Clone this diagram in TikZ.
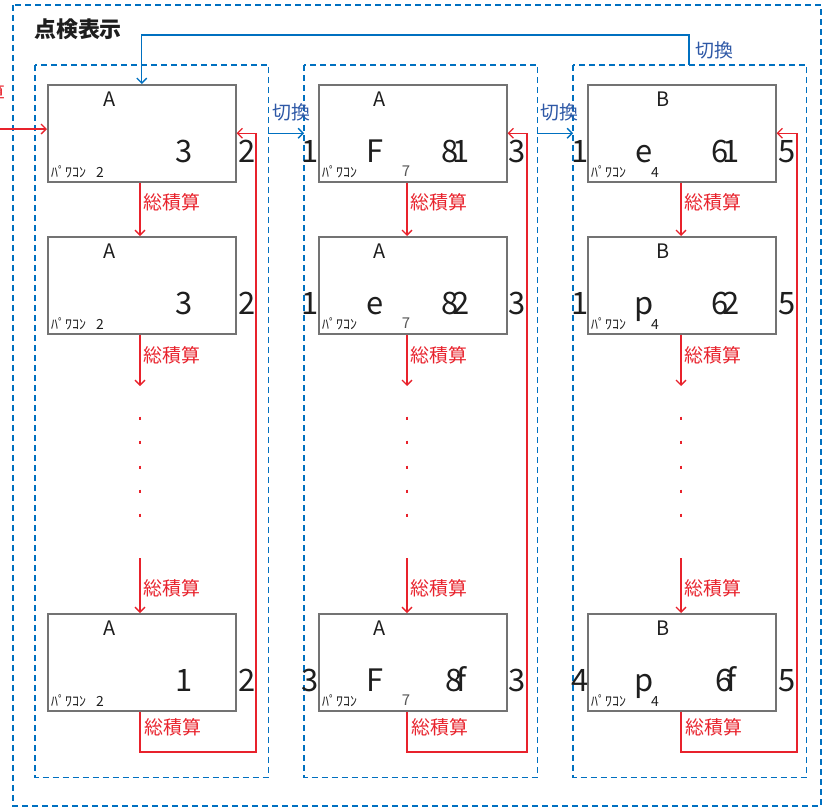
\documentclass[tikz,border=0pt]{standalone}
\usepackage{fontspec}
\setmainfont{Noto Sans CJK JP}
\usetikzlibrary{arrows.meta}
\definecolor{swblue}{RGB}{0,112,192}
\definecolor{swtext}{RGB}{46,88,166}
\definecolor{sumred}{RGB}{232,34,44}
\definecolor{boxgray}{RGB}{115,115,115}
\definecolor{ink}{RGB}{30,30,30}

\begin{document}
\begin{tikzpicture}[x=1bp,y=1bp,
	dashframe/.style={draw=swblue,line width=1.8bp,dash pattern=on 6bp off 4bp},
	colframe/.style={minimum width=233bp,minimum height=712bp,anchor=north west,inner sep=0pt},
	pcbox/.style={draw=boxgray,line width=1.5bp,minimum width=188bp,minimum height=97bp,anchor=north west,inner sep=0pt},
	sumline/.style={draw=sumred,line width=1.3bp},
	sumarrow/.style={sumline,-{Straight Barb[length=5bp,width=10bp]}},
	sumlabel/.style={text=sumred,font=\fontsize{19}{19}\selectfont,anchor=west,inner sep=0pt},
	swarrow/.style={draw=swblue,line width=1.3bp,-{Straight Barb[length=5bp,width=10bp]}},
	swlabel/.style={text=swtext,font=\fontsize{19}{19}\selectfont,anchor=west,inner sep=0pt},
	bignum/.style={text=ink,font=\fontsize{31}{31}\selectfont,anchor=base,inner sep=0pt},
	headtxt/.style={text=ink,font=\fontsize{20}{20}\selectfont,anchor=base,inner sep=0pt},
	pcstag/.style={text=ink,font=\fontsize{14}{14}\selectfont,anchor=base,inner sep=0pt},
	]
	\useasboundingbox (0,0) rectangle (825,-810);

	% outer frame and title
	\draw[dashframe] (13,-5) rectangle (821,-806);
	\node[anchor=west,text=ink,font=\bfseries\fontsize{22}{22}\selectfont,inner sep=0pt] (title) at (34,-29) {点検表示};

	% column frames
	\node[colframe] (c1) at (35,-65) {};
	\node[colframe] (c2) at (304,-65) {};
	\node[colframe] (c3) at (573,-65) {};
	\foreach \c in {1,2,3}
		\draw[dashframe] (c\c.north west) rectangle (c\c.south east);

	% display boxes
	\foreach \c/\x in {1/47,2/318,3/587}
		\foreach \r/\y in {1/84,2/236,3/613}
			\node[pcbox] (b\c\r) at (\x,-\y) {};

	% column 1
	\foreach \r/\y/\nm in {1/84/3,2/236/3,3/613/1}{
		\begin{scope}[shift={(47,-\y)}]
			\node[headtxt] (h1\r) at (63,-22) {A};
			\node[bignum] (n1\r) at (137,-78) {\nm};
			\node[pcstag,anchor=base west] (p1\r) at (4,-93) {ﾊﾟﾜｺﾝ};
			\node[pcstag] (t1\r) at (53,-93) {2};
			\node[bignum] (o1\r) at (200,-78) {2};
		\end{scope}
	}

	% column 2
	\foreach \r/\y/\lf/\md/\nm in {1/84/1/F/8\kern-.2em1,2/236/1/e/8\kern-.2em2,3/613/3/F/8\kern-.22em f}{
		\begin{scope}[shift={(318,-\y)}]
			\node[headtxt] (h2\r) at (62,-22) {A};
			\node[bignum] (i2\r) at (-8,-78) {\lf};
			\node[bignum] (m2\r) at (57,-78) {\md};
			\node[bignum] (n2\r) at (138,-78) {\nm};
			\node[pcstag,anchor=base west] (p2\r) at (4,-93) {ﾊﾟﾜｺﾝ};
			\node[pcstag,text=ink!75,font=\fontsize{15}{15}\selectfont] (t2\r) at (88,-92) {7};
			\node[bignum] (o2\r) at (199,-78) {3};
		\end{scope}
	}

	% column 3
	\foreach \r/\y/\lf/\md/\nm in {1/84/1/e/6\kern-.2em1,2/236/1/p/6\kern-.2em2,3/613/4/p/6\kern-.22em f}{
		\begin{scope}[shift={(587,-\y)}]
			\node[headtxt] (h3\r) at (76,-22) {B};
			\node[bignum] (i3\r) at (-7,-78) {\lf};
			\node[bignum] (m3\r) at (57,-78) {\md};
			\node[bignum] (n3\r) at (139,-78) {\nm};
			\node[pcstag,anchor=base west] (p3\r) at (4,-93) {ﾊﾟﾜｺﾝ};
			\node[pcstag] (t3\r) at (68,-93) {4};
			\node[bignum] (o3\r) at (200,-78) {5};
		\end{scope}
	}

	% totalising chain in each column
	\foreach \c/\vx/\lx in {1/140/256,2/407/527,3/681/797}{
		\coordinate (v\c) at (\vx,0);
		\coordinate (ga\c) at (\vx,-386);
		\coordinate (gb\c) at (\vx,-558);
		\coordinate (loop\c) at (\lx,-752);
		\draw[sumarrow] (b\c1.south -| v\c) -- (b\c2.north -| v\c);
		\draw[sumarrow] (b\c2.south -| v\c) -- (ga\c);
		\draw[sumarrow] (gb\c) -- (b\c3.north -| v\c);
		\draw[sumarrow] (b\c3.south -| v\c) |- (loop\c) |- (b\c1.east);
		\foreach \d in {418,442,467,491,515}
			\draw[sumline,line width=1.1bp] (\vx,-\d+1.5) -- (\vx,-\d-1.5);
		\node[sumlabel] (sa\c) at (\vx+3,-202) {総積算};
		\node[sumlabel] (sb\c) at (\vx+3,-355) {総積算};
		\node[sumlabel] (sc\c) at (\vx+3,-588) {総積算};
		\node[sumlabel] (sd\c) at (\vx+4,-727) {総積算};
	}

	% incoming total from the left
	\coordinate (feed) at (-5,-129);
	\draw[sumarrow] (feed) -- (feed -| b11.west);
	\node[sumlabel,anchor=east] (sf) at (6,-93) {総積算};

	% switching between columns
	\draw[swarrow] (c1.east |- b11.west) -- (c2.west |- b11.west);
	\draw[swarrow] (c2.east |- b11.west) -- (c3.west |- b11.west);
	\node[swlabel] (sw1) at (272,-112) {切換};
	\node[swlabel] (sw2) at (540,-112) {切換};
	\coordinate (swtop) at (689,-35);
	\draw[swarrow] (c3.north -| swtop) -- (swtop) -| (b11.north);
	\node[swlabel] (sw3) at (695,-50) {切換};
\end{tikzpicture}
\end{document}
